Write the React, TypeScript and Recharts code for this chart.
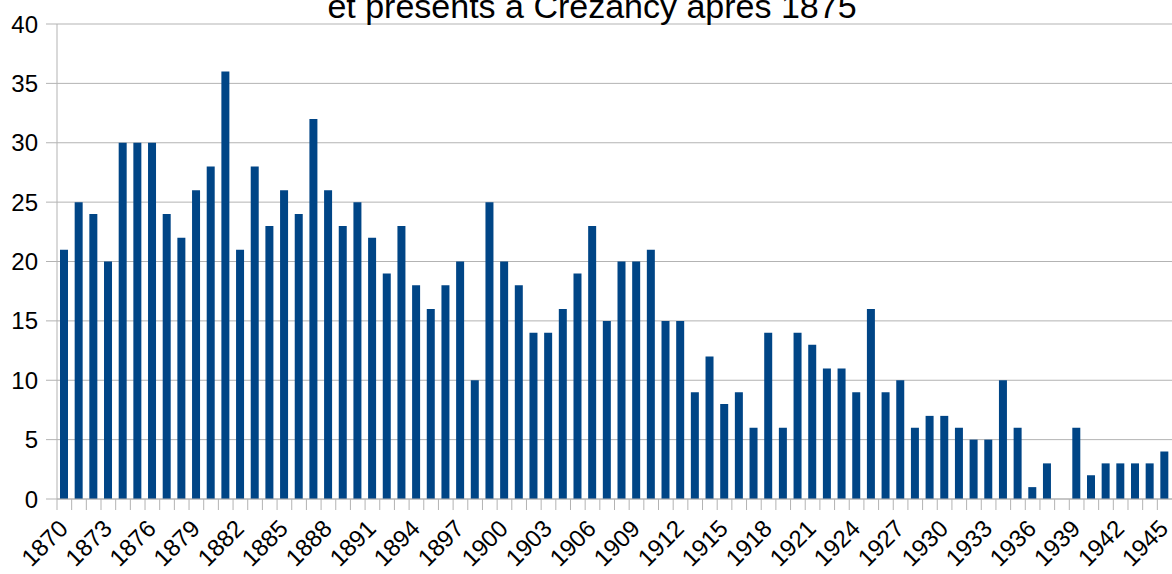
import React from "react";
import { BarChart, Bar, XAxis, YAxis, CartesianGrid } from "recharts";

const years: string[] = [];
for (let y = 1870; y <= 1945; y++) years.push(String(y));

const counts: number[] = [
  21, 25, 24, 20, 30, 30, 30, 24, 22, 26,
  28, 36, 21, 28, 23, 26, 24, 32, 26, 23,
  25, 22, 19, 23, 18, 16, 18, 20, 10, 25,
  20, 18, 14, 14, 16, 19, 23, 15, 20, 20,
  21, 15, 15, 9, 12, 8, 9, 6, 14, 6,
  14, 13, 11, 11, 9, 16, 9, 10, 6, 7,
  7, 6, 5, 5, 10, 6, 1, 3, 0, 6,
  2, 3, 3, 3, 3, 4,
];

const yTicks: number[] = [0, 5, 10, 15, 20, 25, 30, 35, 40];
const titleText = "et présents à Crézancy après 1875";

const data = years.map((year, i) => ({ year, value: counts[i] }));

const W = 1172;
const H = 574;
const AXIS_LEFT = 57;
const BAND = (W - AXIS_LEFT) / years.length;
const GRAY = "#b3b3b3";
const FONT = "'Liberation Sans', Arial, sans-serif";

const XTick = (props: any) => {
  const { x, y, index, payload } = props;
  const bx = x - BAND / 2;
  return (
    <g>
      <line x1={bx} y1={y} x2={bx} y2={y + 11} stroke={GRAY} strokeWidth={1} />
      {index % 3 === 0 ? (
        <text
          x={x + 5}
          y={y + 31}
          textAnchor="end"
          transform={`rotate(-45 ${x + 5} ${y + 31})`}
          fontSize={24}
          fontFamily={FONT}
          fill="#000"
        >
          {payload.value}
        </text>
      ) : null}
    </g>
  );
};

export default function App() {
  return (
    <div style={{ position: "absolute", left: 0, top: 0, width: W, height: H, background: "#fff" }}>
      <BarChart
        width={W}
        height={H}
        data={data}
        margin={{ top: 24, right: 0, bottom: 0, left: 0 }}
      >
        <CartesianGrid vertical={false} stroke={GRAY} strokeWidth={1} />
        <XAxis
          dataKey="year"
          interval={0}
          height={75}
          stroke={GRAY}
          tickLine={false}
          tickSize={0}
          tickMargin={0}
          tick={<XTick />}
        />
        <YAxis
          width={AXIS_LEFT}
          domain={[0, 40]}
          ticks={yTicks}
          interval={0}
          stroke={GRAY}
          tickSize={11}
          tickMargin={8}
          tick={{ fill: "#000", fontSize: 24, fontFamily: FONT }}
        />
        <Bar dataKey="value" fill="#004586" barSize={8} isAnimationActive={false} />
      </BarChart>
      <svg
        width={W}
        height={40}
        style={{ position: "absolute", left: 0, top: 0, pointerEvents: "none" }}
      >
        <text x={592} y={18} textAnchor="middle" fontSize={34} fontFamily={FONT} fill="#000">
          {titleText}
        </text>
      </svg>
    </div>
  );
}
